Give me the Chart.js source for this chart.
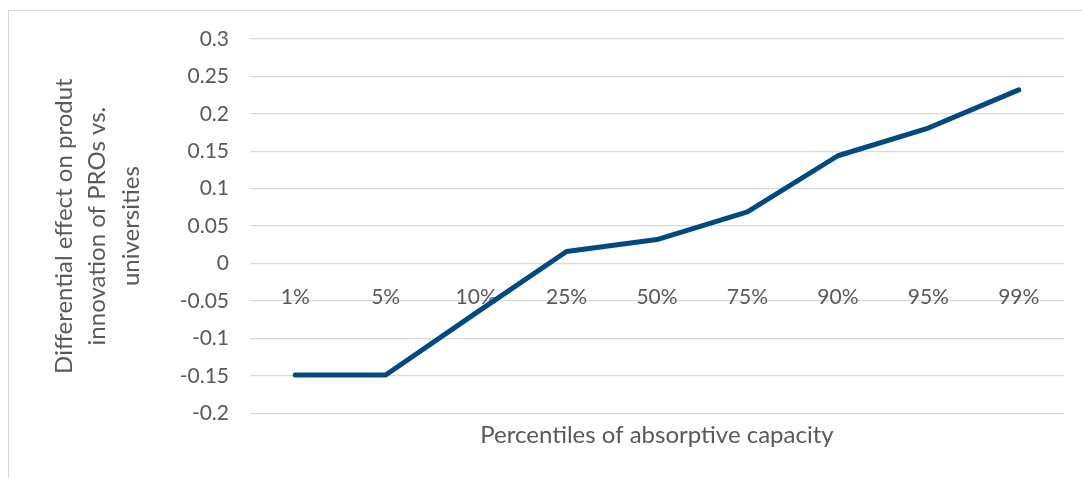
<!DOCTYPE html>
<html>
<head>
<meta charset="utf-8">
<script src="https://cdn.jsdelivr.net/npm/chart.js@4.4.1/dist/chart.umd.min.js"></script>
<style>
  html, body { margin: 0; padding: 0; background: #fff; overflow: hidden; }
  #wrap { position: relative; width: 1082px; height: 478px; }
  #frame { position: absolute; left: 8px; top: 10px; width: 1100px; height: 500px; border: 1px solid #d9d9d9; }
  #chart { position: absolute; left: 0; top: 0; }
</style>
</head>
<body>
<div id="wrap">
  <div id="frame"></div>
  <canvas id="chart" width="1082" height="478"></canvas>
</div>
<script>
const percentiles = ['1%', '5%', '10%', '25%', '50%', '75%', '90%', '95%', '99%'];
const effectValues = [-0.149, -0.149, -0.066, 0.016, 0.032, 0.069, 0.144, 0.181, 0.232];
const yTitleLines = ['Differential effect on produt', 'innovation of PROs vs.', 'universities'];
const xTitle = 'Percentiles of absorptive capacity';

const textColor = '#595959';
const gridColor = '#d9d9d9';
const fontFamily = 'Lato, "Liberation Sans", sans-serif';

const ctx = document.getElementById('chart').getContext('2d');
new Chart(ctx, {
    type: 'line',
    data: {
        labels: percentiles,
        datasets: [{
            data: effectValues,
            borderColor: '#004a7f',
            borderWidth: 5,
            borderCapStyle: 'round',
            borderJoinStyle: 'round',
            pointRadius: 0,
            tension: 0,
            fill: false
        }]
    },
    options: {
        responsive: false,
        animation: false,
        layout: { padding: { top: 39, right: 18, left: 48, bottom: 20 } },
        plugins: {
            legend: { display: false },
            tooltip: { enabled: false },
            title: {
                display: true,
                position: 'bottom',
                fullSize: false,
                text: xTitle,
                color: textColor,
                font: { family: fontFamily, size: 24, weight: 'normal' },
                padding: { top: 8, bottom: 8 }
            }
        },
        scales: {
            x: {
                position: { y: 0 },
                offset: true,
                grid: { display: false, drawTicks: false },
                border: { display: false },
                ticks: {
                    color: textColor,
                    font: { family: fontFamily, size: 21 },
                    padding: 21,
                    maxRotation: 0,
                    autoSkip: false
                }
            },
            y: {
                min: -0.2,
                max: 0.3,
                grid: { color: gridColor, lineWidth: 1.3, drawTicks: false },
                border: { display: false },
                ticks: {
                    stepSize: 0.05,
                    color: textColor,
                    font: { family: fontFamily, size: 21 },
                    padding: 21,
                    callback: v => String(Math.round(v * 100) / 100)
                },
                title: {
                    display: true,
                    text: yTitleLines,
                    color: textColor,
                    font: { family: fontFamily, size: 24, lineHeight: 1.38 },
                    padding: { top: 0, bottom: 0 }
                },
                afterFit: scale => { scale.width = 202; }
            }
        }
    }
});
</script>
</body>
</html>
